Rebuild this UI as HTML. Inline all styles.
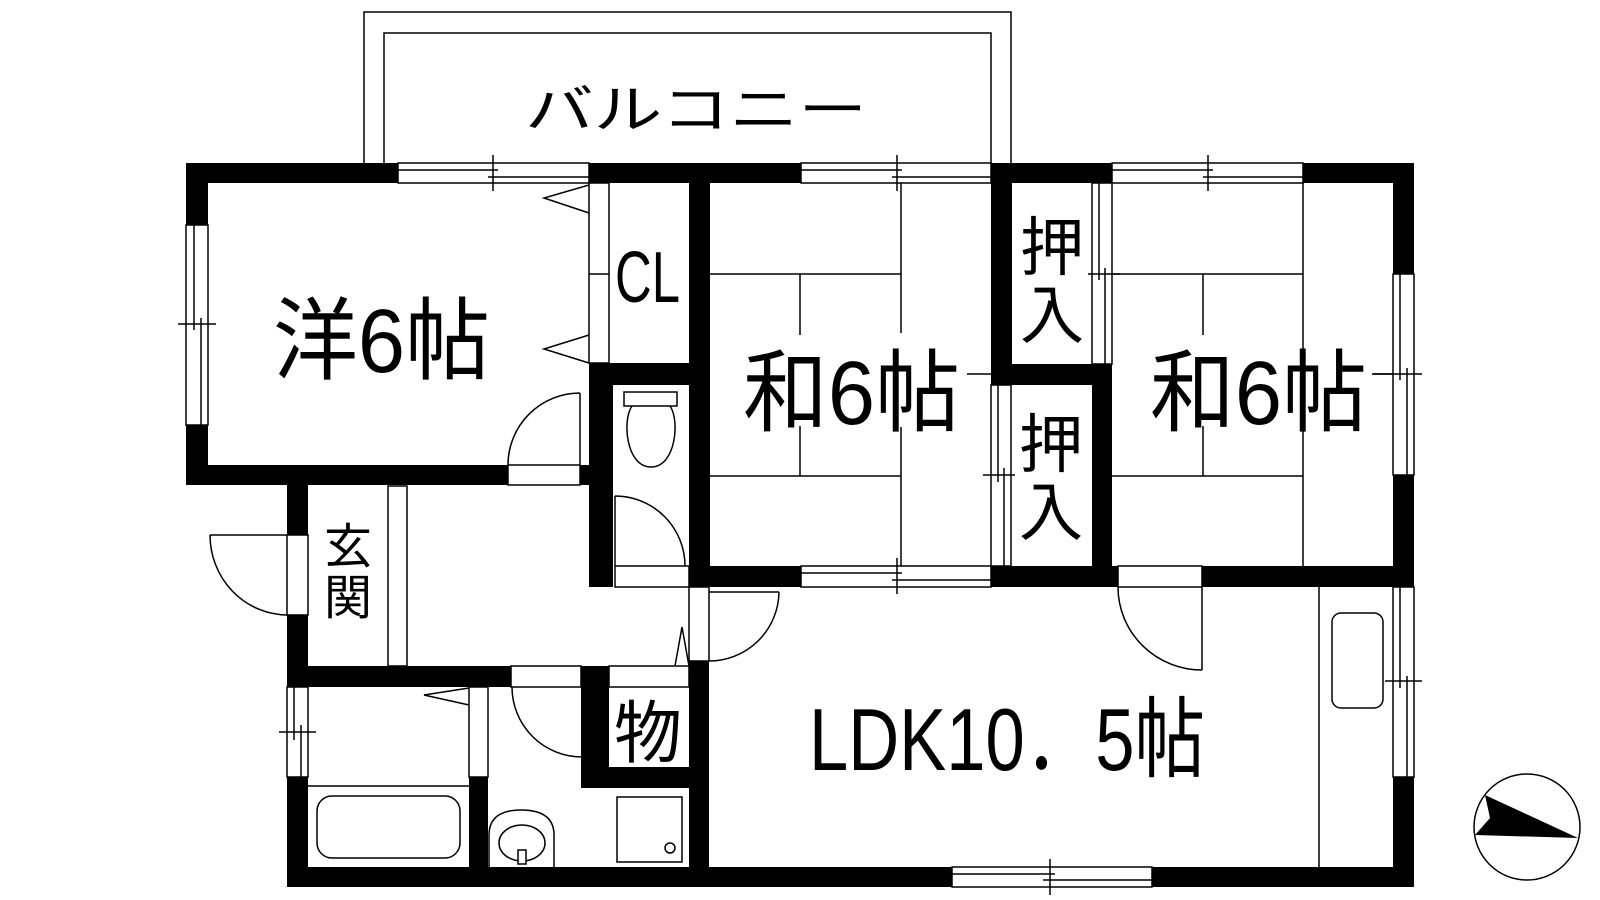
<!DOCTYPE html>
<html><head><meta charset="utf-8"><style>
html,body{margin:0;padding:0;background:#fff;}
svg{display:block;}
text{font-family:"Liberation Sans","Noto Sans CJK JP",sans-serif;fill:#000;}
</style></head><body>
<svg width="1600" height="900" viewBox="0 0 1600 900" xmlns="http://www.w3.org/2000/svg">
<g fill="none" stroke="#000" stroke-width="1.5">
<!-- balcony -->
<path d="M364 163V12H1011V163"/>
<path d="M384 163V33H991V163"/>
<!-- top windows -->
<rect x="398" y="163" width="191" height="20"/><line x1="398" y1="170" x2="498" y2="170"/><line x1="488" y1="177" x2="589" y2="177"/><line x1="493" y1="155" x2="493" y2="191"/>
<rect x="801" y="163" width="190" height="20"/><line x1="801" y1="170" x2="902" y2="170"/><line x1="892" y1="177" x2="991" y2="177"/><line x1="897" y1="155" x2="897" y2="191"/>
<rect x="1112" y="163" width="191" height="20"/><line x1="1112" y1="170" x2="1213" y2="170"/><line x1="1203" y1="177" x2="1303" y2="177"/><line x1="1208" y1="155" x2="1208" y2="191"/>
<!-- left window 洋 -->
<rect x="186" y="225" width="22" height="200"/><line x1="194" y1="225" x2="194" y2="330"/><line x1="201" y1="318" x2="201" y2="425"/><line x1="178" y1="324" x2="216" y2="324"/>
<!-- right windows -->
<rect x="1393" y="274" width="21" height="201"/><line x1="1400" y1="274" x2="1400" y2="380"/><line x1="1407" y1="368" x2="1407" y2="475"/><line x1="1373" y1="374" x2="1422" y2="374"/>
<rect x="1393" y="587" width="21" height="190"/><line x1="1400" y1="587" x2="1400" y2="688"/><line x1="1407" y1="676" x2="1407" y2="777"/><line x1="1385" y1="681" x2="1422" y2="681"/>
<!-- 和1 bottom window -->
<rect x="801" y="566" width="190" height="21"/><line x1="801" y1="573" x2="902" y2="573"/><line x1="892" y1="580" x2="991" y2="580"/><line x1="897" y1="558" x2="897" y2="594"/>
<!-- LDK bottom window -->
<rect x="952" y="867" width="200" height="20"/><line x1="952" y1="874" x2="1055" y2="874"/><line x1="1043" y1="880" x2="1152" y2="880"/><line x1="1050" y1="859" x2="1050" y2="895"/>
<!-- bath window -->
<rect x="287" y="687" width="21" height="90"/><line x1="294" y1="687" x2="294" y2="740"/><line x1="301" y1="725" x2="301" y2="777"/><line x1="279" y1="732" x2="316" y2="732"/>
<!-- 押入 sliding -->
<rect x="1092" y="183" width="20" height="181"/><line x1="1099" y1="183" x2="1099" y2="280"/><line x1="1105" y1="268" x2="1105" y2="364"/><line x1="1088" y1="274" x2="1120" y2="274"/>
<rect x="991" y="385" width="20" height="181"/><line x1="998" y1="385" x2="998" y2="482"/><line x1="1004" y1="468" x2="1004" y2="566"/><line x1="983" y1="475" x2="1015" y2="475"/>
<line x1="967" y1="374" x2="991" y2="374"/>
<!-- tatami 和1 -->
<line x1="710" y1="274" x2="901" y2="274"/><line x1="710" y1="476" x2="901" y2="476"/>
<line x1="901" y1="183" x2="901" y2="333"/><line x1="901" y1="427" x2="901" y2="566"/>
<line x1="800" y1="274" x2="800" y2="335"/><line x1="800" y1="426" x2="800" y2="476"/>
<!-- tatami 和2 -->
<line x1="1112" y1="274" x2="1303" y2="274"/><line x1="1112" y1="476" x2="1303" y2="476"/>
<line x1="1303" y1="183" x2="1303" y2="566"/>
<line x1="1203" y1="274" x2="1203" y2="335"/><line x1="1203" y1="426" x2="1203" y2="476"/>
<line x1="1372" y1="374" x2="1393" y2="374"/>
<!-- CL -->
<rect x="589" y="183" width="20" height="180"/><line x1="589" y1="274" x2="609" y2="274"/>
<path d="M589 185L544 198L589 213"/><path d="M589 335L544 349L589 363"/>
<!-- 洋 door -->
<rect x="508" y="465" width="72" height="20"/>
<path d="M580 393V465M508 465A72 72 0 0 1 580 393"/>
<!-- toilet -->
<rect x="624" y="392" width="53" height="14"/>
<path d="M632 406C622 420 626 467 651 467C676 467 680 420 670 406"/>
<rect x="615" y="566" width="74" height="21"/>
<path d="M615 496V566M615 496A70 70 0 0 1 685 566"/>
<!-- entrance -->
<rect x="287" y="535" width="21" height="80"/>
<path d="M210 535H287M210 535A78 80 0 0 0 287 615"/>
<rect x="388" y="486" width="19" height="180"/>
<!-- LDK door from hall -->
<rect x="689" y="587" width="20" height="74"/>
<path d="M709 592H779M779 592A70 70 0 0 1 709 661"/>
<!-- 物 -->
<rect x="609" y="666" width="80" height="21"/>
<path d="M675 666L682 627L689 666"/>
<!-- washroom door -->
<rect x="511" y="666" width="70" height="21"/>
<path d="M582 687V757M512 687A70 70 0 0 0 582 757"/>
<!-- bath -->
<rect x="469" y="687" width="19" height="90"/>
<path d="M469 688L424 695L469 705"/>
<line x1="308" y1="786" x2="469" y2="786"/>
<rect x="317" y="796" width="143" height="62" rx="15"/>
<!-- washbasin -->
<path d="M489 867V835Q489 810 521 810Q554 810 554 835V867"/>
<ellipse cx="522" cy="843" rx="23" ry="18"/>
<rect x="518" y="850" width="8" height="14" fill="#fff"/>
<!-- washing machine -->
<rect x="617" y="797" width="65" height="65"/>
<circle cx="670" cy="848" r="5"/>
<!-- LDK door -->
<rect x="1118" y="566" width="84" height="21"/>
<path d="M1202 587V670M1118 587A84 83 0 0 0 1202 670"/>
<!-- kitchen -->
<line x1="1319" y1="587" x2="1319" y2="867"/>
<rect x="1332" y="613" width="51" height="95" rx="9"/>
<!-- compass -->
<circle cx="1527" cy="827" r="53"/>
</g>
<g fill="#000">
<polygon points="1485,795 1578,838 1475,835 1490,818"/>
<!-- walls -->
<rect x="186" y="163" width="212" height="20"/>
<rect x="589" y="163" width="212" height="20"/>
<rect x="991" y="163" width="121" height="20"/>
<rect x="1303" y="163" width="111" height="20"/>
<rect x="186" y="163" width="22" height="62"/>
<rect x="186" y="425" width="22" height="60"/>
<rect x="186" y="465" width="322" height="20"/>
<rect x="580" y="465" width="30" height="20"/>
<rect x="589" y="363" width="24" height="224"/>
<rect x="589" y="363" width="120" height="22"/>
<rect x="689" y="163" width="21" height="424"/>
<rect x="689" y="566" width="112" height="21"/>
<rect x="991" y="566" width="127" height="21"/>
<rect x="1202" y="566" width="212" height="21"/>
<rect x="991" y="163" width="21" height="222"/>
<rect x="991" y="364" width="121" height="21"/>
<rect x="1092" y="364" width="20" height="223"/>
<rect x="1393" y="163" width="21" height="111"/>
<rect x="1393" y="475" width="21" height="112"/>
<rect x="1393" y="777" width="21" height="110"/>
<rect x="287" y="485" width="21" height="50"/>
<rect x="287" y="615" width="21" height="72"/>
<rect x="287" y="777" width="21" height="110"/>
<rect x="287" y="666" width="224" height="21"/>
<rect x="581" y="666" width="28" height="122"/>
<rect x="581" y="767" width="128" height="21"/>
<rect x="689" y="661" width="20" height="226"/>
<rect x="469" y="777" width="19" height="90"/>
<rect x="287" y="867" width="665" height="20"/>
<rect x="1152" y="867" width="262" height="20"/>
</g>
<!-- labels -->
<text x="525" y="128" font-size="52" textLength="342" lengthAdjust="spacingAndGlyphs">バルコニー</text>
<text x="273" y="372" font-size="90" textLength="217" lengthAdjust="spacingAndGlyphs">洋6帖</text>
<text x="615" y="302" font-size="72" textLength="65" lengthAdjust="spacingAndGlyphs">CL</text>
<text x="743" y="424" font-size="90" textLength="217" lengthAdjust="spacingAndGlyphs">和6帖</text>
<text x="1150" y="424" font-size="90" textLength="217" lengthAdjust="spacingAndGlyphs">和6帖</text>
<text x="809" y="770" font-size="88" textLength="396" lengthAdjust="spacingAndGlyphs">LDK10．5帖</text>
<g font-size="64" text-anchor="middle">
<text x="1052" y="270">押</text><text x="1052" y="338">入</text>
<text x="1051" y="467">押</text><text x="1051" y="535">入</text>
<text x="648" y="757" font-size="68">物</text>
</g>
<g font-size="48" text-anchor="middle">
<text x="348" y="563">玄</text><text x="348" y="614">関</text>
</g>
</svg>
</body></html>
